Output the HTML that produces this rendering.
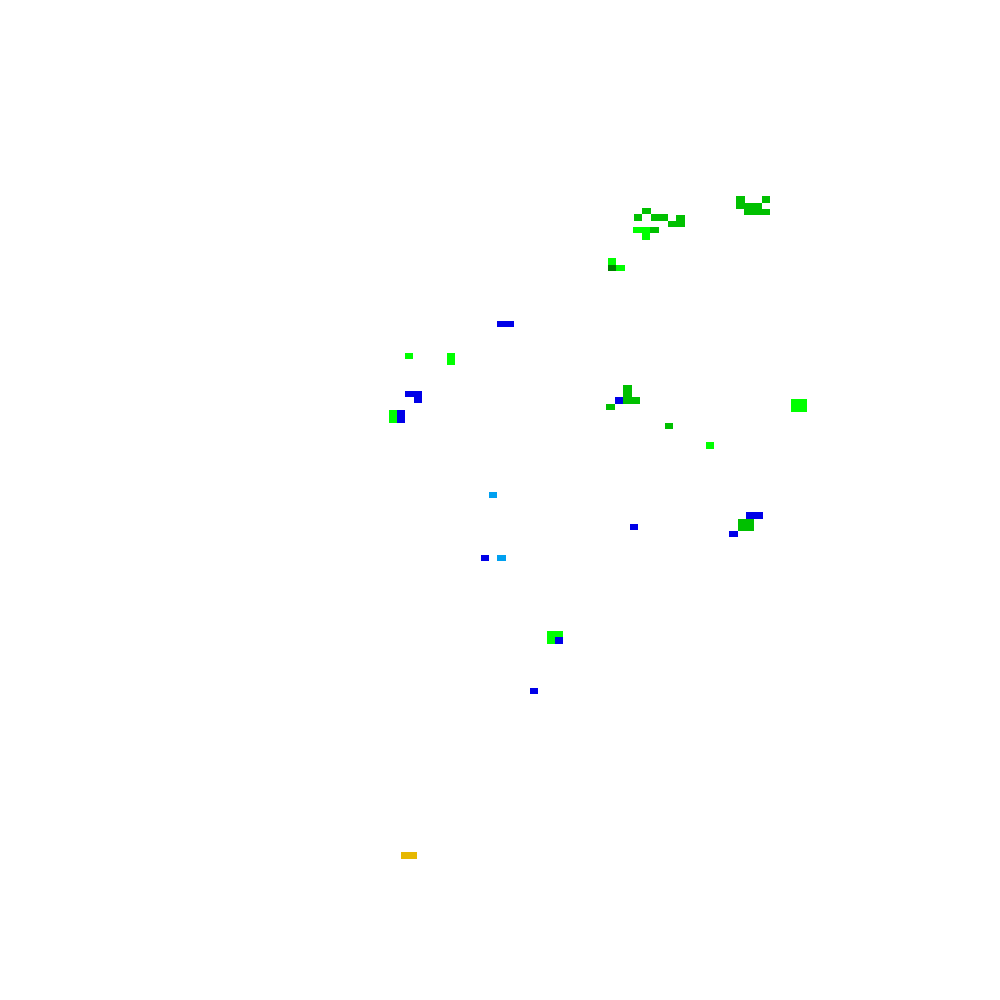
<!DOCTYPE html>
<html><head><meta charset="utf-8"><style>
html,body{margin:0;padding:0;background:#fff;}
#c{position:relative;width:1000px;height:1000px;overflow:hidden;background:#fff;}
#c div{position:absolute;}
.g{background:#00c000}.b{background:#0000e8}.l{background:#00ff00}.d{background:#008000}.s{background:#00a0f0}.y{background:#e6b800}
</style></head><body><div id="c">
<div class="g" style="left:642px;top:208px;width:9px;height:6px"></div>
<div class="g" style="left:634px;top:214px;width:8px;height:7px"></div>
<div class="g" style="left:651px;top:214px;width:17px;height:7px"></div>
<div class="g" style="left:676px;top:215px;width:9px;height:12px"></div>
<div class="g" style="left:668px;top:221px;width:8px;height:6px"></div>
<div class="l" style="left:633px;top:227px;width:17px;height:6px"></div>
<div class="l" style="left:642px;top:233px;width:8px;height:7px"></div>
<div class="g" style="left:650px;top:227px;width:9px;height:6px"></div>
<div class="g" style="left:736px;top:196px;width:9px;height:13px"></div>
<div class="g" style="left:762px;top:196px;width:8px;height:7px"></div>
<div class="g" style="left:745px;top:203px;width:17px;height:6px"></div>
<div class="g" style="left:744px;top:209px;width:26px;height:6px"></div>
<div class="l" style="left:608px;top:258px;width:8px;height:7px"></div>
<div class="d" style="left:608px;top:265px;width:8px;height:6px"></div>
<div class="l" style="left:616px;top:265px;width:9px;height:6px"></div>
<div class="b" style="left:497px;top:321px;width:17px;height:6px"></div>
<div class="l" style="left:405px;top:353px;width:8px;height:6px"></div>
<div class="l" style="left:447px;top:353px;width:8px;height:12px"></div>
<div class="b" style="left:405px;top:391px;width:17px;height:6px"></div>
<div class="b" style="left:414px;top:397px;width:8px;height:6px"></div>
<div class="l" style="left:389px;top:410px;width:8px;height:13px"></div>
<div class="b" style="left:397px;top:410px;width:8px;height:13px"></div>
<div class="g" style="left:623px;top:385px;width:9px;height:12px"></div>
<div class="g" style="left:623px;top:397px;width:17px;height:7px"></div>
<div class="b" style="left:615px;top:397px;width:8px;height:7px"></div>
<div class="g" style="left:606px;top:404px;width:9px;height:6px"></div>
<div class="l" style="left:791px;top:399px;width:16px;height:13px"></div>
<div class="g" style="left:665px;top:423px;width:8px;height:6px"></div>
<div class="l" style="left:706px;top:442px;width:8px;height:7px"></div>
<div class="b" style="left:746px;top:512px;width:17px;height:7px"></div>
<div class="g" style="left:738px;top:519px;width:16px;height:12px"></div>
<div class="b" style="left:729px;top:531px;width:9px;height:6px"></div>
<div class="b" style="left:630px;top:524px;width:8px;height:6px"></div>
<div class="s" style="left:489px;top:492px;width:8px;height:6px"></div>
<div class="b" style="left:481px;top:555px;width:8px;height:6px"></div>
<div class="s" style="left:497px;top:555px;width:9px;height:6px"></div>
<div class="l" style="left:547px;top:631px;width:16px;height:13px"></div>
<div class="b" style="left:555px;top:637px;width:8px;height:7px"></div>
<div class="b" style="left:530px;top:688px;width:8px;height:6px"></div>
<div class="y" style="left:401px;top:852px;width:16px;height:7px"></div>
</div></body></html>
